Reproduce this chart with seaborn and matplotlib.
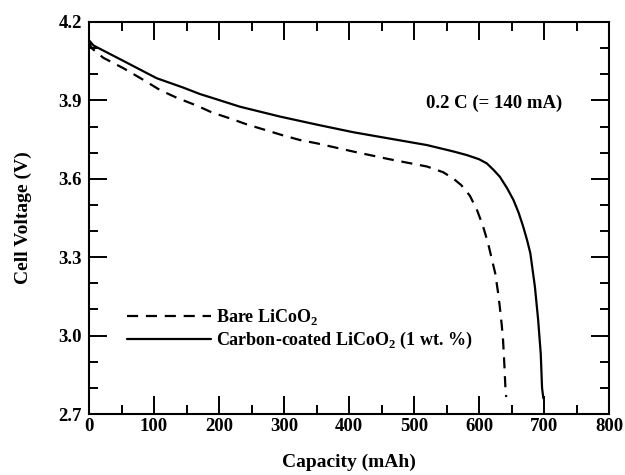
import numpy as np
import pandas as pd
import matplotlib
matplotlib.use("Agg")
import matplotlib.pyplot as plt
import seaborn as sns
from matplotlib.ticker import MultipleLocator

# Bare LiCoO2 discharge curve (capacity mAh, voltage V)
bare_cap = [0, 4, 22, 53, 84, 109, 135, 166, 189, 217, 243, 271, 296, 325, 350,
            407, 460, 520, 545, 561, 573, 586, 597, 606, 614, 620, 625, 629, 632,
            635, 637, 639, 641, 642]
bare_v = [4.125, 4.10, 4.063, 4.023, 3.978, 3.94, 3.91, 3.88, 3.854, 3.831, 3.808,
          3.787, 3.768, 3.748, 3.736, 3.704, 3.676, 3.647, 3.625, 3.60, 3.575, 3.535,
          3.48, 3.42, 3.353, 3.29, 3.238, 3.17, 3.11, 3.04, 2.983, 2.89, 2.78, 2.765]

# Carbon-coated LiCoO2 (1 wt. %) discharge curve
coat_cap = [0, 7, 53, 104, 145, 171, 184, 232, 294, 353, 407, 460, 520, 560, 581,
            600, 612, 622, 632, 643, 653, 661, 668, 674, 679, 686, 691, 695, 697, 699]
coat_v = [4.13, 4.11, 4.051, 3.985, 3.949, 3.924, 3.914, 3.876, 3.838, 3.806, 3.778,
          3.755, 3.729, 3.705, 3.691, 3.675, 3.659, 3.635, 3.608, 3.565, 3.519, 3.47,
          3.417, 3.365, 3.315, 3.187, 3.06, 2.93, 2.8, 2.76]

x_ticks = [0, 100, 200, 300, 400, 500, 600, 700, 800]
y_ticks = [2.7, 3.0, 3.3, 3.6, 3.9, 4.2]

sns.set_theme(style="ticks")
plt.rcParams['font.family'] = ['Liberation Serif', 'DejaVu Serif']
plt.rcParams['font.weight'] = 'bold'
plt.rcParams['text.color'] = 'black'
plt.rcParams['axes.labelcolor'] = 'black'
plt.rcParams['xtick.color'] = 'black'
plt.rcParams['ytick.color'] = 'black'
plt.rcParams['mathtext.fontset'] = 'custom'
plt.rcParams['mathtext.rm'] = 'Liberation Serif:bold'
plt.rcParams['mathtext.bf'] = 'Liberation Serif:bold'

fig = plt.figure(figsize=(6.25, 4.75), dpi=100)
ax = fig.add_axes([0.1424, 0.1284, 0.832, 0.8253])

df_bare = pd.DataFrame({"Capacity": bare_cap, "Voltage": bare_v})
df_coat = pd.DataFrame({"Capacity": coat_cap, "Voltage": coat_v})

sns.lineplot(data=df_bare, x="Capacity", y="Voltage", ax=ax, color="black",
             linewidth=1.6, linestyle=(0, (5, 3.5)), sort=False,
             label=r"Bare LiCoO$_2$")
sns.lineplot(data=df_coat, x="Capacity", y="Voltage", ax=ax, color="black",
             linewidth=1.6, sort=False,
             label=r"Carbon-coated LiCoO$_2$ (1 wt. %)")

ax.set_xlim(0, 800)
ax.set_ylim(2.7, 4.2)
ax.set_xticks(x_ticks)
ax.set_yticks(y_ticks)
ax.set_xticklabels([str(t) for t in x_ticks])
ax.set_yticklabels([f"{t:.1f}" for t in y_ticks])
ax.xaxis.set_minor_locator(MultipleLocator(50))
ax.yaxis.set_minor_locator(MultipleLocator(0.1))
ax.tick_params(which="both", direction="in", top=True, right=True,
               width=1.4, labelsize=13.5, colors="black")
ax.tick_params(axis="x", pad=3)
ax.tick_params(axis="y", pad=5)
ax.tick_params(which="major", length=13)
ax.tick_params(which="minor", length=6.5)
for lab in ax.get_xticklabels() + ax.get_yticklabels():
    lab.set_fontweight("bold")
for s in ax.spines.values():
    s.set_linewidth(1.5)
    s.set_color("black")
    s.set_visible(True)

ax.set_xlabel("Capacity (mAh)", fontsize=14, fontweight="bold", labelpad=13)
ax.set_ylabel("Cell Voltage (V)", fontsize=14, fontweight="bold", labelpad=19)

ax.text(624, 3.89, "0.2 C (= 140 mA)", fontsize=13.5, fontweight="bold",
        ha="center", va="center")

leg = ax.legend(loc="upper left", bbox_to_anchor=(0.073, 0.272), frameon=False,
                fontsize=13, handlelength=4.65, handletextpad=0.28,
                labelspacing=0.15, borderpad=0, borderaxespad=0)
for t in leg.get_texts():
    t.set_fontweight("bold")

fig.savefig("out.png", dpi=100)
